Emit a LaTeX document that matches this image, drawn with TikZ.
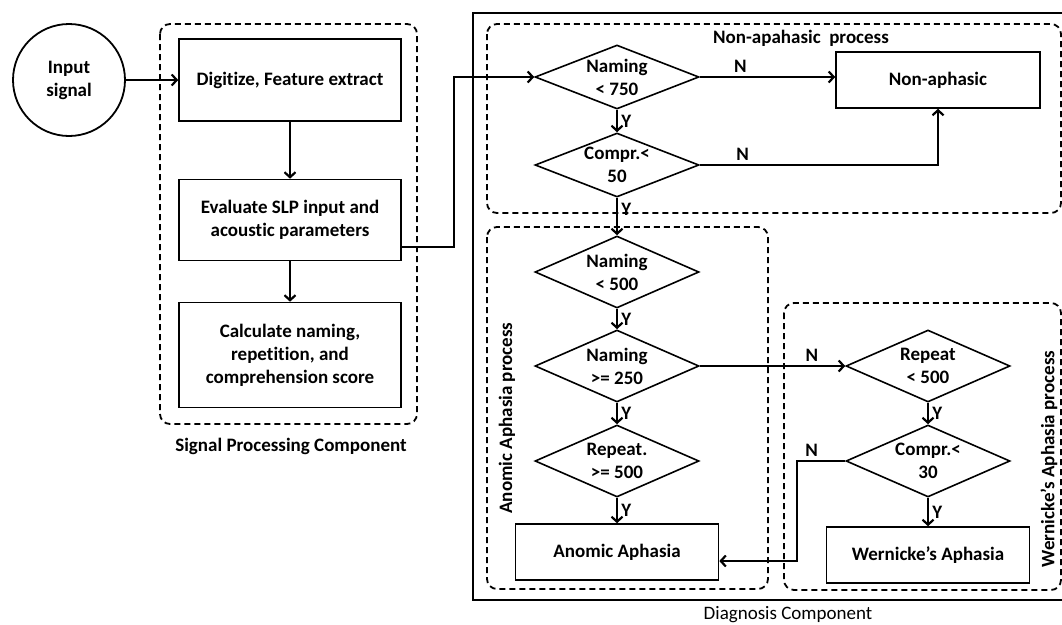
\documentclass[tikz,border=0pt]{standalone}
\usepackage{fontspec}
\setmainfont[Ligatures=CommonOff]{Carlito}
\usetikzlibrary{shapes.geometric,arrows.meta}

\tikzset{
  box/.style={draw, line width=1.6pt, align=center},
  cond/.style={diamond, draw, line width=1.6pt, aspect=2.4, inner sep=0pt,
    minimum width=164pt, align=center},
  grp/.style={draw, line width=1.8pt, dash pattern=on 6pt off 4pt, rounded corners=10pt},
  flow/.style={line width=2.2pt, -{Straight Barb[length=5pt,width=11pt]}}
}

\begin{document}
\begin{tikzpicture}[x=1pt, y=-1pt, font=\fontsize{19}{23}\selectfont\bfseries]
  \useasboundingbox (0,0) rectangle (1062,624);

  % Groups
  \draw[grp] (160,24) rectangle (417,424);
  \draw[line width=2pt] (473,13) rectangle (1064,600);
  \draw[grp] (487,24) rectangle (1061,213);
  \draw[grp] (487,227) rectangle (768,589);
  \draw[grp] (784,303) rectangle (1061,590);

  \node (sp) at (291,446) {Signal Processing Component};
  \node[font=\fontsize{19}{23}\selectfont] (dc) at (788,615) {Diagnosis Component};
  \node (np) at (801,38) {Non-apahasic\ \ process};
  \node[rotate=90] (ap) at (507,418) {Anomic Aphasia process};
  \node[rotate=90] (wp) at (1049,459) {Wernicke's Aphasia process};

  % Signal processing
  \node[circle, draw, line width=1.8pt, minimum size=112pt, align=center] (in) at (69,80) {Input\\signal};
  \node[box, minimum width=222pt, minimum height=82pt] (dig) at (290,80) {Digitize, Feature extract};
  \node[box, minimum width=222pt, minimum height=81pt] (eval) at (290,220) {Evaluate SLP input and\\acoustic parameters};
  \node[box, minimum width=222pt, minimum height=105pt] (calc) at (290,355) {Calculate naming,\\repetition, and\\comprehension score};

  % Diagnosis
  \node[cond, minimum height=64pt] (n750) at (617,77) {Naming\\< 750};
  \node[cond, minimum height=64pt] (c50) at (617,165) {Compr.<\\50};
  \node[box, minimum width=204pt, minimum height=56pt] (non) at (938,80) {Non-aphasic};
  \node[cond, minimum height=72pt] (n500) at (617,272) {Naming\\< 500};
  \node[cond, minimum height=72pt] (n250) at (617,366) {Naming\\>= 250};
  \node[cond, minimum height=72pt] (r500) at (617,461) {Repeat.\\>= 500};
  \node[box, minimum width=203pt, minimum height=56pt] (anom) at (617,552) {Anomic Aphasia};
  \node[cond, minimum height=72pt] (rep) at (928,366) {Repeat\\< 500};
  \node[cond, minimum height=72pt] (c30) at (928,461) {Compr.<\\30};
  \node[box, minimum width=203pt, minimum height=56pt] (wern) at (928,555) {Wernicke's Aphasia};
  \coordinate (ain) at ([yshift=-9pt]anom.east);

  \draw[flow] (in) -- (dig);
  \draw[flow] (dig) -- (eval);
  \draw[flow] (eval) -- (calc);
  \draw[flow] ([yshift=-27pt]eval.east) -- ++(52,0) |- (n750.west);

  \draw[flow] (n750.east) -- node[above, pos=0.3] {N} (n750.east -| non.west);
  \draw[flow] (n750) -- node[right] {Y} (c50);
  \draw[flow] (c50.east) -| node[above, pos=0.09] {N} (non.south);
  \draw[flow] (c50) -- node[right, pos=0.3] {Y} (n500);
  \draw[flow] (n500) -- node[right] {Y} (n250);
  \draw[flow] (n250) -- node[right] {Y} (r500);
  \draw[flow] (r500) -- node[right] {Y} (anom);
  \draw[flow] (n250) -- node[above, pos=0.77] {N} (rep);
  \draw[flow] (rep) -- node[right] {Y} (c30);
  \draw[flow] (c30) -- node[right] {Y} (wern);
  \draw[flow] (c30.west) -- node[above, pos=0.7] {N} ++(-48,0) |- (ain);
\end{tikzpicture}
\end{document}
